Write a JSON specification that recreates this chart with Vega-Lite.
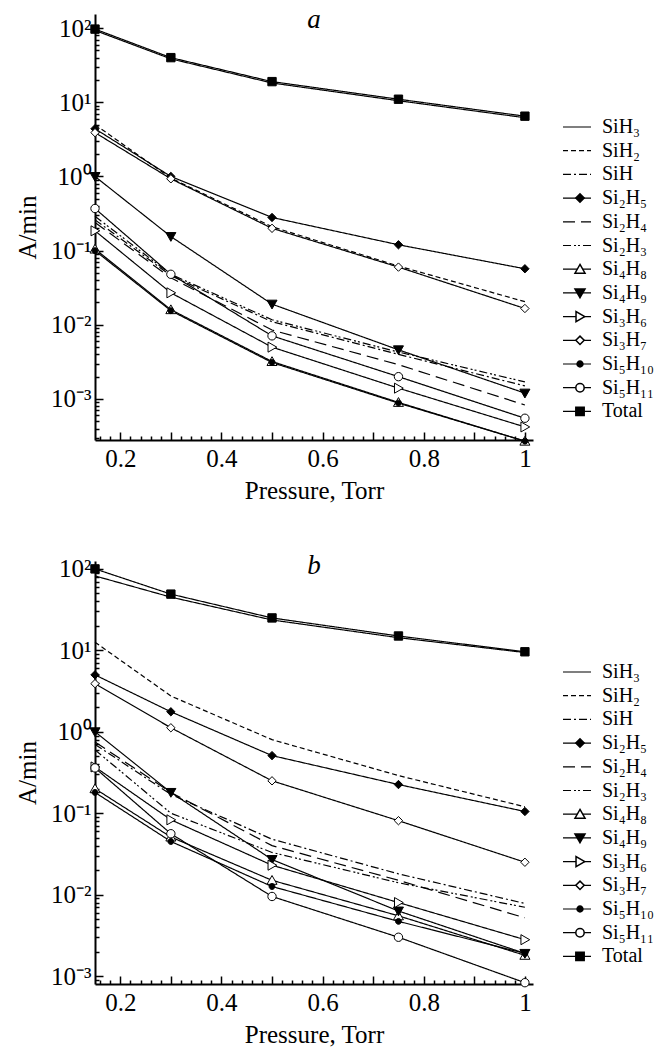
{
  "$schema": "https://vega.github.io/schema/vega-lite/v6.json",
  "background": "white",
  "padding": {"left": 15, "top": 6, "right": 0, "bottom": 0},
  "spacing": 48,
  "config": {
    "view": {"stroke": null},
    "font": "Liberation Serif",
    "axis": {"labelFont": "Liberation Serif", "titleFont": "Liberation Serif", "labelFontSize": 25, "titleFontSize": 25, "titleFontWeight": "normal", "labelColor": "black", "titleColor": "black", "domainColor": "black", "tickColor": "black", "domainWidth": 2, "tickWidth": 1.5, "grid": false},
    "legend": {"padding": 0, "rowPadding": 3.7, "labelOffset": 15, "labelFont": "Liberation Serif", "labelFontSize": 20, "labelColor": "black"},
    "title": {"font": "Liberation Serif", "fontSize": 27, "fontStyle": "italic", "fontWeight": "normal", "color": "black"}
  },
  "datasets": {
    "rates": [
      {"panel": "a", "species": "Total", "pressure": 0.15, "rate": 97},
      {"panel": "a", "species": "Total", "pressure": 0.3, "rate": 40},
      {"panel": "a", "species": "Total", "pressure": 0.5, "rate": 19},
      {"panel": "a", "species": "Total", "pressure": 0.75, "rate": 11},
      {"panel": "a", "species": "Total", "pressure": 1, "rate": 6.5},
      {"panel": "a", "species": "SiH₃", "pressure": 0.15, "rate": 93},
      {"panel": "a", "species": "SiH₃", "pressure": 0.3, "rate": 38.5},
      {"panel": "a", "species": "SiH₃", "pressure": 0.5, "rate": 18.2},
      {"panel": "a", "species": "SiH₃", "pressure": 0.75, "rate": 10.5},
      {"panel": "a", "species": "SiH₃", "pressure": 1, "rate": 6.2},
      {"panel": "a", "species": "SiH₂", "pressure": 0.15, "rate": 5.0},
      {"panel": "a", "species": "SiH₂", "pressure": 0.3, "rate": 0.95},
      {"panel": "a", "species": "SiH₂", "pressure": 0.5, "rate": 0.21},
      {"panel": "a", "species": "SiH₂", "pressure": 0.75, "rate": 0.062},
      {"panel": "a", "species": "SiH₂", "pressure": 1, "rate": 0.0205},
      {"panel": "a", "species": "SiH", "pressure": 0.15, "rate": 0.26},
      {"panel": "a", "species": "SiH", "pressure": 0.3, "rate": 0.046},
      {"panel": "a", "species": "SiH", "pressure": 0.5, "rate": 0.011},
      {"panel": "a", "species": "SiH", "pressure": 0.75, "rate": 0.004},
      {"panel": "a", "species": "SiH", "pressure": 1, "rate": 0.0015},
      {"panel": "a", "species": "Si₂H₅", "pressure": 0.15, "rate": 4.4},
      {"panel": "a", "species": "Si₂H₅", "pressure": 0.3, "rate": 1.0},
      {"panel": "a", "species": "Si₂H₅", "pressure": 0.5, "rate": 0.28},
      {"panel": "a", "species": "Si₂H₅", "pressure": 0.75, "rate": 0.12},
      {"panel": "a", "species": "Si₂H₅", "pressure": 1, "rate": 0.057},
      {"panel": "a", "species": "Si₂H₄", "pressure": 0.15, "rate": 0.24},
      {"panel": "a", "species": "Si₂H₄", "pressure": 0.3, "rate": 0.043},
      {"panel": "a", "species": "Si₂H₄", "pressure": 0.5, "rate": 0.0085},
      {"panel": "a", "species": "Si₂H₄", "pressure": 0.75, "rate": 0.0029},
      {"panel": "a", "species": "Si₂H₄", "pressure": 1, "rate": 0.00083},
      {"panel": "a", "species": "Si₂H₃", "pressure": 0.15, "rate": 0.29},
      {"panel": "a", "species": "Si₂H₃", "pressure": 0.3, "rate": 0.048},
      {"panel": "a", "species": "Si₂H₃", "pressure": 0.5, "rate": 0.0117},
      {"panel": "a", "species": "Si₂H₃", "pressure": 0.75, "rate": 0.0043},
      {"panel": "a", "species": "Si₂H₃", "pressure": 1, "rate": 0.0017},
      {"panel": "a", "species": "Si₄H₈", "pressure": 0.15, "rate": 0.105},
      {"panel": "a", "species": "Si₄H₈", "pressure": 0.3, "rate": 0.016},
      {"panel": "a", "species": "Si₄H₈", "pressure": 0.5, "rate": 0.0032},
      {"panel": "a", "species": "Si₄H₈", "pressure": 0.75, "rate": 0.0009},
      {"panel": "a", "species": "Si₄H₈", "pressure": 1, "rate": 0.00027},
      {"panel": "a", "species": "Si₄H₉", "pressure": 0.15, "rate": 1.0},
      {"panel": "a", "species": "Si₄H₉", "pressure": 0.3, "rate": 0.155},
      {"panel": "a", "species": "Si₄H₉", "pressure": 0.5, "rate": 0.019},
      {"panel": "a", "species": "Si₄H₉", "pressure": 0.75, "rate": 0.0046},
      {"panel": "a", "species": "Si₄H₉", "pressure": 1, "rate": 0.0012},
      {"panel": "a", "species": "Si₃H₆", "pressure": 0.15, "rate": 0.185},
      {"panel": "a", "species": "Si₃H₆", "pressure": 0.3, "rate": 0.027},
      {"panel": "a", "species": "Si₃H₆", "pressure": 0.5, "rate": 0.005},
      {"panel": "a", "species": "Si₃H₆", "pressure": 0.75, "rate": 0.0014},
      {"panel": "a", "species": "Si₃H₆", "pressure": 1, "rate": 0.00042},
      {"panel": "a", "species": "Si₃H₇", "pressure": 0.15, "rate": 3.9},
      {"panel": "a", "species": "Si₃H₇", "pressure": 0.3, "rate": 0.93},
      {"panel": "a", "species": "Si₃H₇", "pressure": 0.5, "rate": 0.2},
      {"panel": "a", "species": "Si₃H₇", "pressure": 0.75, "rate": 0.06},
      {"panel": "a", "species": "Si₃H₇", "pressure": 1, "rate": 0.0166},
      {"panel": "a", "species": "Si₅H₁₀", "pressure": 0.15, "rate": 0.1},
      {"panel": "a", "species": "Si₅H₁₀", "pressure": 0.3, "rate": 0.0155},
      {"panel": "a", "species": "Si₅H₁₀", "pressure": 0.5, "rate": 0.0031},
      {"panel": "a", "species": "Si₅H₁₀", "pressure": 0.75, "rate": 0.00088},
      {"panel": "a", "species": "Si₅H₁₀", "pressure": 1, "rate": 0.00027},
      {"panel": "a", "species": "Si₅H₁₁", "pressure": 0.15, "rate": 0.37},
      {"panel": "a", "species": "Si₅H₁₁", "pressure": 0.3, "rate": 0.048},
      {"panel": "a", "species": "Si₅H₁₁", "pressure": 0.5, "rate": 0.0071},
      {"panel": "a", "species": "Si₅H₁₁", "pressure": 0.75, "rate": 0.002},
      {"panel": "a", "species": "Si₅H₁₁", "pressure": 1, "rate": 0.00055},

      {"panel": "b", "species": "Total", "pressure": 0.15, "rate": 100},
      {"panel": "b", "species": "Total", "pressure": 0.3, "rate": 49},
      {"panel": "b", "species": "Total", "pressure": 0.5, "rate": 25},
      {"panel": "b", "species": "Total", "pressure": 0.75, "rate": 15},
      {"panel": "b", "species": "Total", "pressure": 1, "rate": 9.6},
      {"panel": "b", "species": "SiH₃", "pressure": 0.15, "rate": 82},
      {"panel": "b", "species": "SiH₃", "pressure": 0.3, "rate": 45},
      {"panel": "b", "species": "SiH₃", "pressure": 0.5, "rate": 23.6},
      {"panel": "b", "species": "SiH₃", "pressure": 0.75, "rate": 14.3},
      {"panel": "b", "species": "SiH₃", "pressure": 1, "rate": 9.4},
      {"panel": "b", "species": "SiH₂", "pressure": 0.15, "rate": 12.6},
      {"panel": "b", "species": "SiH₂", "pressure": 0.3, "rate": 2.75},
      {"panel": "b", "species": "SiH₂", "pressure": 0.5, "rate": 0.8},
      {"panel": "b", "species": "SiH₂", "pressure": 0.75, "rate": 0.29},
      {"panel": "b", "species": "SiH₂", "pressure": 1, "rate": 0.12},
      {"panel": "b", "species": "SiH", "pressure": 0.15, "rate": 0.7},
      {"panel": "b", "species": "SiH", "pressure": 0.3, "rate": 0.17},
      {"panel": "b", "species": "SiH", "pressure": 0.5, "rate": 0.048},
      {"panel": "b", "species": "SiH", "pressure": 0.75, "rate": 0.018},
      {"panel": "b", "species": "SiH", "pressure": 1, "rate": 0.0078},
      {"panel": "b", "species": "Si₂H₅", "pressure": 0.15, "rate": 5.0},
      {"panel": "b", "species": "Si₂H₅", "pressure": 0.3, "rate": 1.76},
      {"panel": "b", "species": "Si₂H₅", "pressure": 0.5, "rate": 0.51},
      {"panel": "b", "species": "Si₂H₅", "pressure": 0.75, "rate": 0.225},
      {"panel": "b", "species": "Si₂H₅", "pressure": 1, "rate": 0.105},
      {"panel": "b", "species": "Si₂H₄", "pressure": 0.15, "rate": 0.75},
      {"panel": "b", "species": "Si₂H₄", "pressure": 0.3, "rate": 0.18},
      {"panel": "b", "species": "Si₂H₄", "pressure": 0.5, "rate": 0.04},
      {"panel": "b", "species": "Si₂H₄", "pressure": 0.75, "rate": 0.015},
      {"panel": "b", "species": "Si₂H₄", "pressure": 1, "rate": 0.0052},
      {"panel": "b", "species": "Si₂H₃", "pressure": 0.15, "rate": 0.6},
      {"panel": "b", "species": "Si₂H₃", "pressure": 0.3, "rate": 0.1},
      {"panel": "b", "species": "Si₂H₃", "pressure": 0.5, "rate": 0.033},
      {"panel": "b", "species": "Si₂H₃", "pressure": 0.75, "rate": 0.014},
      {"panel": "b", "species": "Si₂H₃", "pressure": 1, "rate": 0.007},
      {"panel": "b", "species": "Si₄H₈", "pressure": 0.15, "rate": 0.2},
      {"panel": "b", "species": "Si₄H₈", "pressure": 0.3, "rate": 0.051},
      {"panel": "b", "species": "Si₄H₈", "pressure": 0.5, "rate": 0.015},
      {"panel": "b", "species": "Si₄H₈", "pressure": 0.75, "rate": 0.0055},
      {"panel": "b", "species": "Si₄H₈", "pressure": 1, "rate": 0.0018},
      {"panel": "b", "species": "Si₄H₉", "pressure": 0.15, "rate": 1.0},
      {"panel": "b", "species": "Si₄H₉", "pressure": 0.3, "rate": 0.18},
      {"panel": "b", "species": "Si₄H₉", "pressure": 0.5, "rate": 0.027},
      {"panel": "b", "species": "Si₄H₉", "pressure": 0.75, "rate": 0.0063},
      {"panel": "b", "species": "Si₄H₉", "pressure": 1, "rate": 0.0019},
      {"panel": "b", "species": "Si₃H₆", "pressure": 0.15, "rate": 0.37},
      {"panel": "b", "species": "Si₃H₆", "pressure": 0.3, "rate": 0.083},
      {"panel": "b", "species": "Si₃H₆", "pressure": 0.5, "rate": 0.023},
      {"panel": "b", "species": "Si₃H₆", "pressure": 0.75, "rate": 0.008},
      {"panel": "b", "species": "Si₃H₆", "pressure": 1, "rate": 0.0028},
      {"panel": "b", "species": "Si₃H₇", "pressure": 0.15, "rate": 3.9},
      {"panel": "b", "species": "Si₃H₇", "pressure": 0.3, "rate": 1.12},
      {"panel": "b", "species": "Si₃H₇", "pressure": 0.5, "rate": 0.25},
      {"panel": "b", "species": "Si₃H₇", "pressure": 0.75, "rate": 0.081},
      {"panel": "b", "species": "Si₃H₇", "pressure": 1, "rate": 0.025},
      {"panel": "b", "species": "Si₅H₁₀", "pressure": 0.15, "rate": 0.18},
      {"panel": "b", "species": "Si₅H₁₀", "pressure": 0.3, "rate": 0.045},
      {"panel": "b", "species": "Si₅H₁₀", "pressure": 0.5, "rate": 0.0126},
      {"panel": "b", "species": "Si₅H₁₀", "pressure": 0.75, "rate": 0.0047},
      {"panel": "b", "species": "Si₅H₁₀", "pressure": 1, "rate": 0.0019},
      {"panel": "b", "species": "Si₅H₁₁", "pressure": 0.15, "rate": 0.36},
      {"panel": "b", "species": "Si₅H₁₁", "pressure": 0.3, "rate": 0.056},
      {"panel": "b", "species": "Si₅H₁₁", "pressure": 0.5, "rate": 0.0095},
      {"panel": "b", "species": "Si₅H₁₁", "pressure": 0.75, "rate": 0.003},
      {"panel": "b", "species": "Si₅H₁₁", "pressure": 1, "rate": 0.00083}
    ]
  },
  "resolve": {"scale": {"shape": "independent", "fill": "independent", "strokeDash": "independent"}, "legend": {"shape": "independent", "fill": "independent", "strokeDash": "independent"}},
  "vconcat": [
    {
      "width": 438, "height": 426,
      "title": {"text": "a", "offset": -20},
      "data": {"name": "rates"},
      "transform": [{"filter": "datum.panel == 'a'"}],
      "resolve": {"axis": {"x": "independent", "y": "independent"}},
      "layer": [
        {
          "mark": {"type": "line", "color": "black", "strokeWidth": 1.2},
          "encoding": {
            "x": {"field": "pressure", "type": "quantitative", "scale": {"domain": [0.15, 1.016], "nice": false, "zero": false},
                  "axis": {"values": [0.2, 0.3, 0.4, 0.5, 0.6, 0.7, 0.8, 0.9, 1], "tickSize": -8, "labelPadding": 14, "title": "Pressure, Torr", "titlePadding": 7,
                           "labelExpr": "indexof([0.2, 0.4, 0.6, 0.8], datum.value) >= 0 ? format(datum.value, '.1f') : (datum.value == 1 ? '1' : '')"}},
            "y": {"field": "rate", "type": "quantitative", "scale": {"type": "log", "domain": [0.00028, 155], "nice": false},
                  "axis": {"values": [0.001, 0.01, 0.1, 1, 10, 100], "tickSize": -8, "labelPadding": 12, "title": "A/min", "titlePadding": 10,
                           "labelExpr": "datum.value == 100 ? '10²' : datum.value == 10 ? '10¹' : datum.value == 1 ? '10⁰' : datum.value == 0.1 ? '10⁻¹' : datum.value == 0.01 ? '10⁻²' : datum.value == 0.001 ? '10⁻³' : ''"}},
            "strokeDash": {"field": "species", "type": "nominal",
                           "scale": {"domain": ["SiH₃", "SiH₂", "SiH", "Si₂H₅", "Si₂H₄", "Si₂H₃", "Si₄H₈", "Si₄H₉", "Si₃H₆", "Si₃H₇", "Si₅H₁₀", "Si₅H₁₁", "Total"],
                                     "range": [[1, 0], [5, 3], [8, 3, 2, 3], [1, 0], [12, 6], [8, 3, 2, 2, 2, 3], [1, 0], [1, 0], [1, 0], [1, 0], [1, 0], [1, 0], [1, 0]]},
                           "legend": {"orient": "none", "legendX": 472, "legendY": 103, "title": null, "symbolType": "M-2,0H2", "symbolSize": 196, "symbolStrokeWidth": 1.2, "symbolStrokeColor": "black"}}
          }
        },
        {
          "transform": [{"filter": {"not": {"field": "species", "oneOf": ["SiH₃", "SiH₂", "SiH", "Si₂H₄", "Si₂H₃"]}}}],
          "mark": {"type": "point", "filled": true, "stroke": "black", "strokeWidth": 1, "size": 70, "opacity": 1},
          "encoding": {
            "x": {"field": "pressure", "type": "quantitative",
                  "axis": {"orient": "bottom", "values": [0.16, 0.18, 0.22, 0.24, 0.26, 0.28, 0.32, 0.34, 0.36, 0.38, 0.42, 0.44, 0.46, 0.48, 0.52, 0.54, 0.56, 0.58, 0.62, 0.64, 0.66, 0.68, 0.72, 0.74, 0.76, 0.78, 0.82, 0.84, 0.86, 0.88, 0.92, 0.94, 0.96, 0.98], "tickSize": -4, "labels": false, "domain": false, "title": null}},
            "y": {"field": "rate", "type": "quantitative",
                  "axis": {"orient": "left", "values": [0.0003, 0.0004, 0.0005, 0.0006, 0.0007, 0.0008, 0.0009, 0.002, 0.003, 0.004, 0.005, 0.006, 0.007, 0.008, 0.009, 0.02, 0.03, 0.04, 0.05, 0.06, 0.07, 0.08, 0.09, 0.2, 0.3, 0.4, 0.5, 0.6, 0.7, 0.8, 0.9, 2, 3, 4, 5, 6, 7, 8, 9, 20, 30, 40, 50, 60, 70, 80, 90], "tickSize": -4, "labels": false, "domain": false, "title": null}},
            "fill": {"field": "species", "type": "nominal",
                     "scale": {"domain": ["SiH₃", "SiH₂", "SiH", "Si₂H₅", "Si₂H₄", "Si₂H₃", "Si₄H₈", "Si₄H₉", "Si₃H₆", "Si₃H₇", "Si₅H₁₀", "Si₅H₁₁", "Total", " "],
                               "range": ["white", "white", "white", "black", "white", "white", "white", "black", "white", "white", "black", "white", "black", "white"]}},
            "shape": {"field": "species", "type": "nominal",
                      "scale": {"domain": ["SiH₃", "SiH₂", "SiH", "Si₂H₅", "Si₂H₄", "Si₂H₃", "Si₄H₈", "Si₄H₉", "Si₃H₆", "Si₃H₇", "Si₅H₁₀", "Si₅H₁₁", "Total", " "],
                                "range": ["M0,0", "M0,0", "M0,0", "diamond", "M0,0", "M0,0", "M0,-1.15L1.2,0.95L-1.2,0.95Z", "M0,1.15L1.2,-0.95L-1.2,-0.95Z", "M1.15,0L-0.95,-1.2L-0.95,1.2Z", "diamond", "M-0.7,0A0.7,0.7,0,1,0,0.7,0A0.7,0.7,0,1,0,-0.7,0Z", "circle", "square", "M0,0"]},
                      "legend": {"orient": "none", "legendX": 475, "legendY": 103, "title": null, "symbolSize": 70, "labelOpacity": 0}}
          }
        }
      ]
    },
    {
      "width": 438, "height": 423,
      "title": {"text": "b", "offset": -23},
      "data": {"name": "rates"},
      "transform": [{"filter": "datum.panel == 'b'"}],
      "resolve": {"axis": {"x": "independent", "y": "independent"}},
      "layer": [
        {
          "mark": {"type": "line", "color": "black", "strokeWidth": 1.2},
          "encoding": {
            "x": {"field": "pressure", "type": "quantitative", "scale": {"domain": [0.15, 1.016], "nice": false, "zero": false},
                  "axis": {"values": [0.2, 0.3, 0.4, 0.5, 0.6, 0.7, 0.8, 0.9, 1], "tickSize": -8, "labelPadding": 14, "title": "Pressure, Torr", "titlePadding": 7,
                           "labelExpr": "indexof([0.2, 0.4, 0.6, 0.8], datum.value) >= 0 ? format(datum.value, '.1f') : (datum.value == 1 ? '1' : '')"}},
            "y": {"field": "rate", "type": "quantitative", "scale": {"type": "log", "domain": [0.0008, 125], "nice": false},
                  "axis": {"values": [0.001, 0.01, 0.1, 1, 10, 100], "tickSize": -8, "labelPadding": 12, "title": "A/min", "titlePadding": 10,
                           "labelExpr": "datum.value == 100 ? '10²' : datum.value == 10 ? '10¹' : datum.value == 1 ? '10⁰' : datum.value == 0.1 ? '10⁻¹' : datum.value == 0.01 ? '10⁻²' : datum.value == 0.001 ? '10⁻³' : ''"}},
            "strokeDash": {"field": "species", "type": "nominal",
                           "scale": {"domain": ["SiH₃", "SiH₂", "SiH", "Si₂H₅", "Si₂H₄", "Si₂H₃", "Si₄H₈", "Si₄H₉", "Si₃H₆", "Si₃H₇", "Si₅H₁₀", "Si₅H₁₁", "Total"],
                                     "range": [[1, 0], [5, 3], [8, 3, 2, 3], [1, 0], [12, 6], [8, 3, 2, 2, 2, 3], [1, 0], [1, 0], [1, 0], [1, 0], [1, 0], [1, 0], [1, 0]]},
                           "legend": {"orient": "none", "legendX": 472, "legendY": 101, "title": null, "symbolType": "M-2,0H2", "symbolSize": 196, "symbolStrokeWidth": 1.2, "symbolStrokeColor": "black"}}
          }
        },
        {
          "transform": [{"filter": {"not": {"field": "species", "oneOf": ["SiH₃", "SiH₂", "SiH", "Si₂H₄", "Si₂H₃"]}}}],
          "mark": {"type": "point", "filled": true, "stroke": "black", "strokeWidth": 1, "size": 70, "opacity": 1},
          "encoding": {
            "x": {"field": "pressure", "type": "quantitative",
                  "axis": {"orient": "bottom", "values": [0.16, 0.18, 0.22, 0.24, 0.26, 0.28, 0.32, 0.34, 0.36, 0.38, 0.42, 0.44, 0.46, 0.48, 0.52, 0.54, 0.56, 0.58, 0.62, 0.64, 0.66, 0.68, 0.72, 0.74, 0.76, 0.78, 0.82, 0.84, 0.86, 0.88, 0.92, 0.94, 0.96, 0.98], "tickSize": -4, "labels": false, "domain": false, "title": null}},
            "y": {"field": "rate", "type": "quantitative",
                  "axis": {"orient": "left", "values": [0.0009, 0.002, 0.003, 0.004, 0.005, 0.006, 0.007, 0.008, 0.009, 0.02, 0.03, 0.04, 0.05, 0.06, 0.07, 0.08, 0.09, 0.2, 0.3, 0.4, 0.5, 0.6, 0.7, 0.8, 0.9, 2, 3, 4, 5, 6, 7, 8, 9, 20, 30, 40, 50, 60, 70, 80, 90], "tickSize": -4, "labels": false, "domain": false, "title": null}},
            "fill": {"field": "species", "type": "nominal",
                     "scale": {"domain": ["SiH₃", "SiH₂", "SiH", "Si₂H₅", "Si₂H₄", "Si₂H₃", "Si₄H₈", "Si₄H₉", "Si₃H₆", "Si₃H₇", "Si₅H₁₀", "Si₅H₁₁", "Total", " "],
                               "range": ["white", "white", "white", "black", "white", "white", "white", "black", "white", "white", "black", "white", "black", "white"]}},
            "shape": {"field": "species", "type": "nominal",
                      "scale": {"domain": ["SiH₃", "SiH₂", "SiH", "Si₂H₅", "Si₂H₄", "Si₂H₃", "Si₄H₈", "Si₄H₉", "Si₃H₆", "Si₃H₇", "Si₅H₁₀", "Si₅H₁₁", "Total", " "],
                                "range": ["M0,0", "M0,0", "M0,0", "diamond", "M0,0", "M0,0", "M0,-1.15L1.2,0.95L-1.2,0.95Z", "M0,1.15L1.2,-0.95L-1.2,-0.95Z", "M1.15,0L-0.95,-1.2L-0.95,1.2Z", "diamond", "M-0.7,0A0.7,0.7,0,1,0,0.7,0A0.7,0.7,0,1,0,-0.7,0Z", "circle", "square", "M0,0"]},
                      "legend": {"orient": "none", "legendX": 475, "legendY": 101, "title": null, "symbolSize": 70, "labelOpacity": 0}}
          }
        }
      ]
    }
  ]
}
